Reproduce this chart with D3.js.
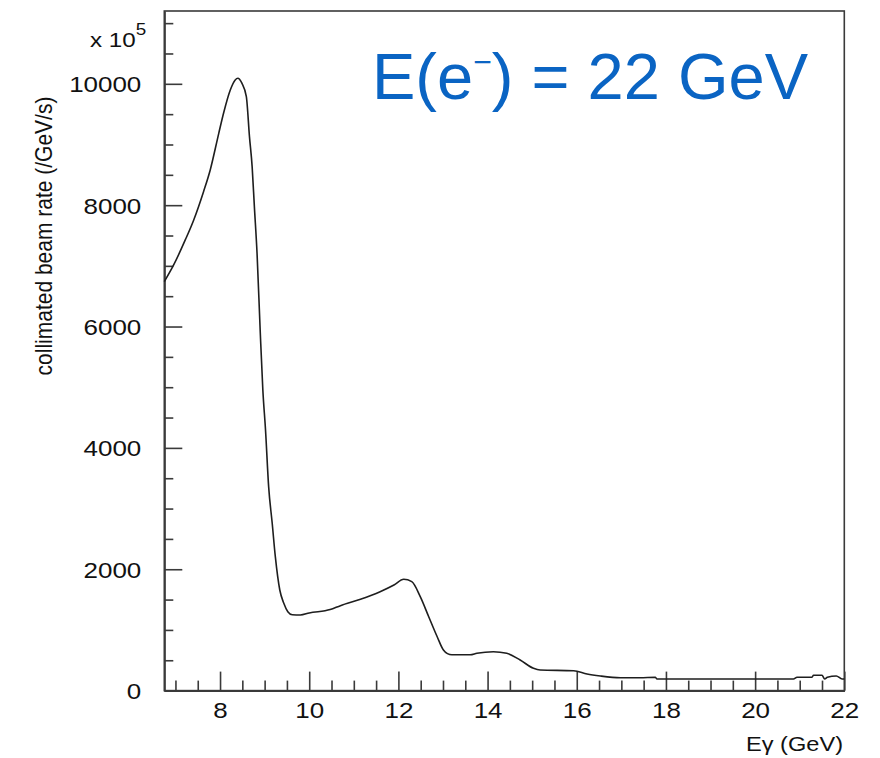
<!DOCTYPE html>
<html><head><meta charset="utf-8">
<script src="https://cdn.jsdelivr.net/npm/d3@7"></script>
<style>body{margin:0;background:#fff}svg{display:block}</style>
</head><body>
<svg id="c" width="880" height="758"></svg>
<script>
// ---- data ----
const energy = [6.75, 6.96, 7.22, 7.41, 7.63, 7.78, 7.97, 8.08, 8.23, 8.34, 8.40, 8.49, 8.59, 8.66, 8.72, 8.77, 8.83, 8.90, 8.96, 9.02, 9.09, 9.17, 9.24, 9.34, 9.43, 9.52, 9.62, 9.80, 10.00, 10.47, 10.70, 11.15, 11.59, 11.90, 12.12, 12.30, 12.49, 12.68, 12.87, 13.01, 13.10, 13.20, 13.61, 13.76, 14.13, 14.43, 14.73, 15.03, 15.18, 15.93, 16.23, 16.53, 16.98, 17.42, 17.76, 17.80, 20.86, 20.94, 21.27, 21.31, 21.50, 21.56, 21.62, 21.82, 21.95, 22.00];
const rate   = [6740, 7015, 7427, 7757, 8223, 8581, 9180, 9520, 9899, 10064, 10092, 10010, 9789, 9130, 8635, 7976, 7208, 5944, 4955, 4296, 3361, 2758, 2207, 1658, 1439, 1300, 1250, 1246, 1280, 1335, 1400, 1505, 1630, 1740, 1834, 1795, 1548, 1218, 888, 669, 610, 590, 590, 615, 641, 615, 504, 367, 340, 328, 274, 241, 213, 213, 219, 191, 191, 219, 219, 252, 252, 191, 219, 241, 191, 191];

const xDomain = [6.75, 22];
const yDomain = [0, 11200];
const xMajorTicks = [8, 10, 12, 14, 16, 18, 20, 22];
const xMinorTicks = [7, 7.5, 8.5, 9, 9.5, 10.5, 11, 11.5, 12.5, 13, 13.5, 14.5, 15, 15.5, 16.5, 17, 17.5, 18.5, 19, 19.5, 20.5, 21, 21.5];
const yMajorTicks = [0, 2000, 4000, 6000, 8000, 10000];
const yMinorTicks = [500, 1000, 1500, 2500, 3000, 3500, 4500, 5000, 5500, 6500, 7000, 7500, 8500, 9000, 9500, 10500, 11000];

const xTitle = "Eγ (GeV)";
const yTitle = "collimated beam rate (/GeV/s)";
const multiplierBase = "x 10";
const multiplierExp = "5";
const headline = ["E(e", "−", ") = 22 GeV"];

// ---- layout ----
const L = 164.3, R = 844.3, T = 11, B = 690.6;
const STRETCH = 1.18;
const axisColor = "#3a3a3a";
const fontFam = "'Liberation Sans', Arial, Helvetica, sans-serif";

const svg = d3.select("#c");
const x = d3.scaleLinear().domain(xDomain).range([L, R]);
const y = d3.scaleLinear().domain(yDomain).range([B, T]);

// frame
svg.append("rect").attr("x", L).attr("y", T).attr("width", R - L).attr("height", B - T)
  .attr("fill", "none").attr("stroke", axisColor).attr("stroke-width", 1.6);

function styleAxis(g) {
  g.select(".domain").attr("stroke", axisColor).attr("stroke-width", 1.6);
  g.selectAll(".tick line").attr("stroke", axisColor).attr("stroke-width", 1.6);
}

// x axis minor + major
const gxMinor = svg.append("g").attr("transform", `translate(0,${B})`)
  .call(d3.axisBottom(x).tickValues(xMinorTicks).tickSize(-10).tickSizeOuter(0).tickFormat(""));
styleAxis(gxMinor);
const gx = svg.append("g").attr("transform", `translate(0,${B})`)
  .call(d3.axisBottom(x).tickValues(xMajorTicks).tickSize(-19).tickSizeOuter(0).tickFormat(d3.format("d")));
styleAxis(gx);
gx.selectAll(".tick text")
  .attr("y", null).attr("dy", null)
  .attr("transform", `translate(0,27.5) scale(${STRETCH},1)`)
  .attr("font-family", fontFam).attr("font-size", 22).attr("fill", "#111")
  .attr("text-anchor", "middle");

// y axis minor + major
const gyMinor = svg.append("g").attr("transform", `translate(${L},0)`)
  .call(d3.axisLeft(y).tickValues(yMinorTicks).tickSize(-9).tickSizeOuter(0).tickFormat(""));
styleAxis(gyMinor);
const gy = svg.append("g").attr("transform", `translate(${L},0)`)
  .call(d3.axisLeft(y).tickValues(yMajorTicks).tickSize(-18).tickSizeOuter(0).tickFormat(d3.format("d")));
styleAxis(gy);
gy.selectAll(".tick text")
  .attr("x", null).attr("dy", null)
  .attr("transform", `translate(-23,8) scale(${STRETCH},1)`)
  .attr("font-family", fontFam).attr("font-size", 22).attr("fill", "#111")
  .attr("text-anchor", "end");

// curve
const line = d3.line().x((d, i) => x(energy[i])).y((d, i) => y(rate[i])).curve(d3.curveMonotoneX);
svg.append("path").datum(rate).attr("d", line)
  .attr("fill", "none").attr("stroke", "#1e1e1e").attr("stroke-width", 1.6);

// axis titles
svg.append("text")
  .attr("transform", `translate(843,751) scale(${STRETCH},1)`)
  .attr("text-anchor", "end").attr("font-family", fontFam).attr("font-size", 20).attr("fill", "#111")
  .text(xTitle);

svg.append("text")
  .attr("transform", `translate(52,236) scale(${STRETCH},1) rotate(-90)`)
  .attr("text-anchor", "middle").attr("font-family", fontFam).attr("font-size", 21).attr("fill", "#111")
  .text(yTitle);

// multiplier
const mt = svg.append("text")
  .attr("transform", `translate(90,47) scale(${STRETCH},1)`)
  .attr("font-family", fontFam).attr("font-size", 20.5).attr("fill", "#111");
mt.append("tspan").text(multiplierBase);
mt.append("tspan").attr("dy", -12).attr("font-size", 16).text(multiplierExp);

// headline
const ht = svg.append("text").attr("x", 372).attr("y", 99)
  .attr("font-family", "'Liberation Sans', Arial, Helvetica, sans-serif")
  .attr("font-size", 65).attr("fill", "#0a64c3");
ht.append("tspan").text(headline[0]);
ht.append("tspan").attr("dy", -26).attr("font-size", 32).text(headline[1]);
ht.append("tspan").attr("dy", 26).text(headline[2]);
</script>
</body></html>
